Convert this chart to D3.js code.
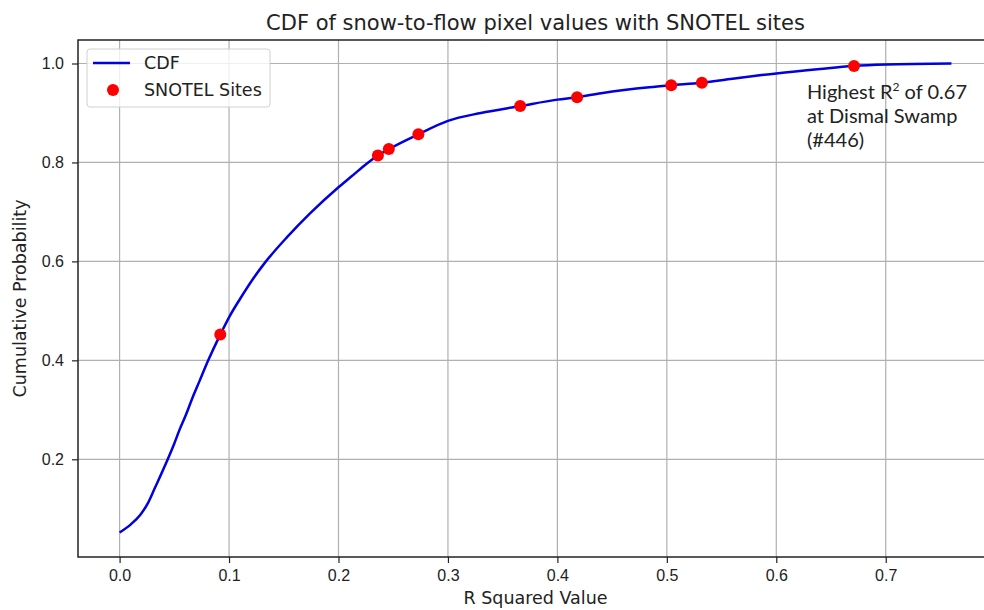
<!DOCTYPE html>
<html>
<head>
<meta charset="utf-8">
<script src="https://cdn.jsdelivr.net/npm/d3@7"></script>
<style>
  body { margin: 0; background: #fff; }
  svg { display: block; font-family: 'DejaVu Sans', sans-serif; }
  .grid line { stroke: #b0b0b0; stroke-width: 1.2; }
  .axis text { font-size: 16px; fill: #222; }
  .axis path, .axis line { stroke: #222; stroke-width: 1.2; }
</style>
</head>
<body>
<script>
// CDF curve
const cdfX = [0.000, 0.010, 0.019, 0.026, 0.032, 0.038, 0.044, 0.050, 0.055, 0.061,
  0.066, 0.073, 0.081, 0.092, 0.100, 0.110, 0.122, 0.133, 0.153, 0.174,
  0.200, 0.212, 0.226, 0.236, 0.246, 0.273, 0.300, 0.330, 0.366, 0.400,
  0.418, 0.440, 0.484, 0.504, 0.532, 0.560, 0.600, 0.640, 0.670, 0.700, 0.760];
const cdfY = [0.052, 0.068, 0.088, 0.112, 0.141, 0.170, 0.200, 0.232, 0.261, 0.292,
  0.321, 0.358, 0.400, 0.452, 0.487, 0.524, 0.565, 0.598, 0.649, 0.697,
  0.750, 0.772, 0.798, 0.814, 0.827, 0.857, 0.884, 0.900, 0.914, 0.927,
  0.932, 0.940, 0.952, 0.956, 0.961, 0.969, 0.980, 0.989, 0.995, 0.998, 1.000];

// SNOTEL sites
const siteR2 = [0.092, 0.236, 0.246, 0.273, 0.366, 0.418, 0.504, 0.532, 0.671];
const siteCdf = [0.452, 0.814, 0.827, 0.857, 0.914, 0.932, 0.956, 0.961, 0.995];

const xTicks = [0.0, 0.1, 0.2, 0.3, 0.4, 0.5, 0.6, 0.7];
const yTicks = [0.2, 0.4, 0.6, 0.8, 1.0];

const W = 984;
const H = 610;
const margin = { top: 40, right: -9, bottom: 53, left: 78 };
const width = W - margin.left - margin.right;
const height = H - margin.top - margin.bottom;

const svg = d3.select('body')
  .append('svg')
  .attr('width', W)
  .attr('height', H);

const g = svg.append('g')
  .attr('transform', `translate(${margin.left},${margin.top})`);

const x = d3.scaleLinear().domain([-0.038, 0.798]).range([0, width]);
const y = d3.scaleLinear().domain([0.0025, 1.0475]).range([height, 0]);

// grid
g.append('g').attr('class', 'grid')
  .selectAll('line').data(xTicks).enter().append('line')
  .attr('x1', (d) => x(d)).attr('x2', (d) => x(d))
  .attr('y1', 0).attr('y2', height);
g.append('g').attr('class', 'grid')
  .selectAll('line').data(yTicks).enter().append('line')
  .attr('x1', 0).attr('x2', width)
  .attr('y1', (d) => y(d)).attr('y2', (d) => y(d));

// frame
g.append('rect')
  .attr('width', width).attr('height', height)
  .attr('fill', 'none').attr('stroke', '#222').attr('stroke-width', 1.5);

g.append('g')
  .attr('class', 'axis')
  .attr('transform', `translate(0,${height})`)
  .call(d3.axisBottom(x).tickValues(xTicks).tickFormat(d3.format('.1f')).tickSize(6).tickPadding(7))
  .call((a) => a.select('.domain').remove());

g.append('g')
  .attr('class', 'axis')
  .call(d3.axisLeft(y).tickValues(yTicks).tickFormat(d3.format('.1f')).tickSize(6).tickPadding(8))
  .call((a) => a.select('.domain').remove());

// cdf line
const pts = cdfX.map((v, i) => [v, cdfY[i]]);
g.append('path')
  .datum(pts)
  .attr('fill', 'none')
  .attr('stroke', '#0000e0')
  .attr('stroke-width', 2.5)
  .attr('stroke-linejoin', 'round')
  .attr('d', d3.line().x((d) => x(d[0])).y((d) => y(d[1])).curve(d3.curveMonotoneX));

// sites
g.selectAll('.site')
  .data(siteR2.map((v, i) => [v, siteCdf[i]]))
  .enter().append('circle')
  .attr('class', 'site')
  .attr('cx', (d) => x(d[0]))
  .attr('cy', (d) => y(d[1]))
  .attr('r', 6)
  .attr('fill', '#ff0000');

// title and labels
svg.append('text')
  .attr('x', margin.left + width / 2)
  .attr('y', 30)
  .attr('text-anchor', 'middle')
  .style('font-size', '21px')
  .style('fill', '#222')
  .text('CDF of snow-to-flow pixel values with SNOTEL sites');

svg.append('text')
  .attr('x', margin.left + width / 2)
  .attr('y', 604)
  .attr('text-anchor', 'middle')
  .style('font-size', '17.5px')
  .style('fill', '#222')
  .text('R Squared Value');

svg.append('text')
  .attr('transform', `translate(26,${margin.top + height / 2}) rotate(-90)`)
  .attr('text-anchor', 'middle')
  .style('font-size', '17.5px')
  .style('fill', '#222')
  .text('Cumulative Probability');

// legend
const legend = svg.append('g').attr('transform', 'translate(87,49)');
legend.append('rect')
  .attr('width', 183).attr('height', 58).attr('rx', 3)
  .attr('fill', '#fff').attr('fill-opacity', 0.8)
  .attr('stroke', '#d0d0d0');
legend.append('line')
  .attr('x1', 6).attr('x2', 43).attr('y1', 14).attr('y2', 14)
  .attr('stroke', '#0000e0').attr('stroke-width', 2.5);
legend.append('text').attr('x', 57).attr('y', 20)
  .style('font-size', '17.5px').style('fill', '#222').text('CDF');
legend.append('circle').attr('cx', 26).attr('cy', 41).attr('r', 6).attr('fill', '#ff0000');
legend.append('text').attr('x', 57).attr('y', 47)
  .style('font-size', '17.5px').style('fill', '#222').text('SNOTEL Sites');

// annotation
const note = svg.append('text')
  .attr('x', 807)
  .attr('y', 99)
  .style('font-family', 'Lato, sans-serif')
  .style('font-size', '20px')
  .style('fill', '#222');
const l1 = note.append('tspan').attr('x', 807).text('Highest R');
l1.append('tspan').attr('dy', -8).style('font-size', '12px').text('2');
note.append('tspan').attr('dy', 8).text(' of 0.67');
note.append('tspan').attr('x', 807).attr('y', 123).text('at Dismal Swamp');
note.append('tspan').attr('x', 807).attr('y', 147).text('(#446)');
</script>
</body>
</html>
